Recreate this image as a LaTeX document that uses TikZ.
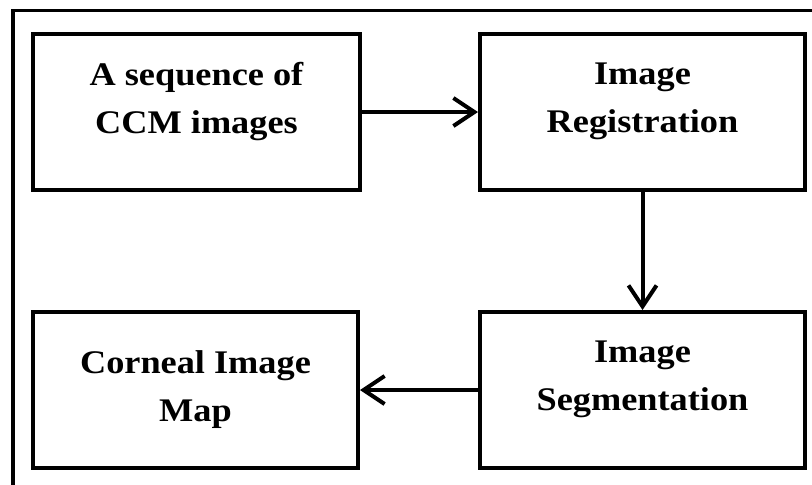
\documentclass[tikz,border=0pt]{standalone}
\usepackage{fontspec}
\newfontfamily\boxfont{Liberation Serif}[FakeStretch=1.1]
\usetikzlibrary{arrows.meta}
\tikzset{
  stepbox/.style={draw=black, line width=4pt, fill=white, align=center, inner sep=0pt,
    font=\boxfont\bfseries\fontsize{33}{48}\selectfont},
  lifted/.style={text depth=29pt},
  flow/.style={line width=4pt, -{Straight Barb[length=21pt,width=28pt,line width=4pt]}}
}
\begin{document}
\begin{tikzpicture}[x=1pt,y=-1pt]
\useasboundingbox (0,0) rectangle (812,485);
% outer frame (cropped: only top and left visible)
\draw[line width=3.5pt] (13,495) -- (13,10.5) -- (820,10.5);
\node[stepbox, lifted, minimum width=327pt, minimum height=156pt] (seq) at (196.5,112) {A sequence of\\CCM images};
\node[stepbox, lifted, minimum width=325pt, minimum height=156pt] (reg) at (642.5,112) {Image\\Registration};
\node[stepbox, lifted, minimum width=325pt, minimum height=156pt] (seg) at (642.5,390) {Image\\Segmentation};
\node[stepbox, minimum width=325pt, minimum height=156pt] (map) at (195.5,390) {Corneal Image\\Map};
\draw[flow] (seq.east) -- (reg.west);
\draw[flow] (reg.south) -- (seg.north);
\draw[flow] (seg.west) -- (map.east);
\end{tikzpicture}
\end{document}
